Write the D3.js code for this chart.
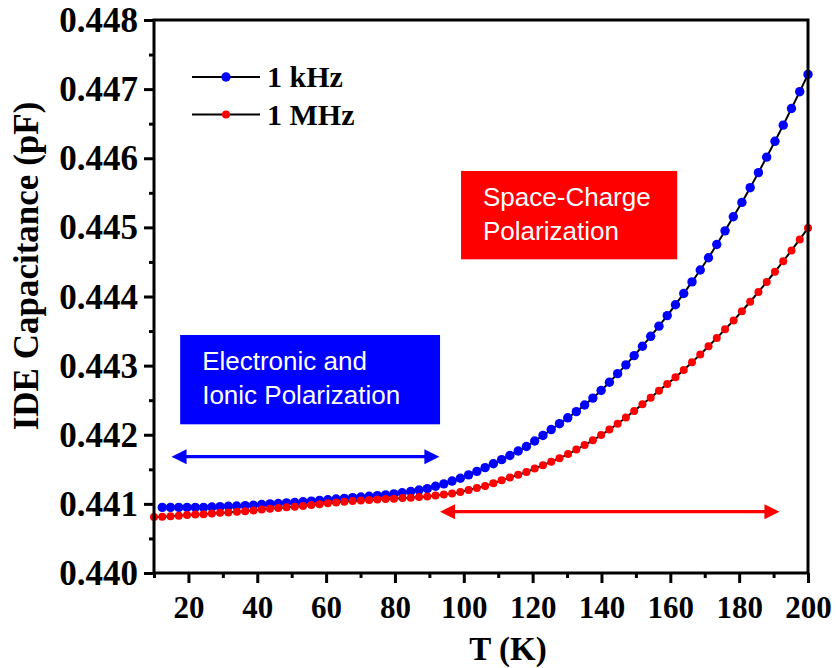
<!DOCTYPE html>
<html>
<head>
<meta charset="utf-8">
<script src="https://cdn.jsdelivr.net/npm/d3@7"></script>
<style>
  html, body { margin: 0; padding: 0; background: #fff; }
  svg { display: block; }
  .serif { font-family: "Times New Roman", "Liberation Serif", serif; font-weight: bold; fill: #000; }
  .sans { font-family: Arial, "Liberation Sans", sans-serif; fill: #fff; }
</style>
</head>
<body>
<svg id="chart" width="836" height="668"></svg>
<script>
  // ---- data ----
  const tempKHz = [
    12.4, 14.8, 17.2, 19.6, 22.0, 24.4, 26.8, 29.2, 31.6, 34.0,
    36.5, 38.9, 41.3, 43.7, 46.1, 48.5, 50.9, 53.3, 55.7, 58.1,
    60.5, 62.9, 65.3, 67.7, 70.1, 72.5, 74.9, 77.3, 79.7, 82.1,
    84.6, 87.0, 89.4, 91.8, 94.2, 96.6, 99.0, 101.4, 103.8, 106.2,
    108.6, 111.0, 113.4, 115.8, 118.2, 120.6, 123.0, 125.4, 127.8, 130.2,
    132.7, 135.1, 137.5, 139.9, 142.3, 144.7, 147.1, 149.5, 151.9, 154.3,
    156.7, 159.1, 161.5, 163.9, 166.3, 168.7, 171.1, 173.5, 175.9, 178.3,
    180.8, 183.2, 185.6, 188.0, 190.4, 192.8, 195.2, 197.6, 200.0
  ];
  const capKHz = [
    0.44095, 0.44095, 0.44095, 0.44095, 0.44095, 0.44095, 0.440955, 0.44096, 0.440965, 0.44097,
    0.440975, 0.44098, 0.44099, 0.44100, 0.441005, 0.441015, 0.44102, 0.44103, 0.44104, 0.44105,
    0.44106, 0.44107, 0.44108, 0.44109, 0.44110, 0.44111, 0.44112, 0.44113, 0.441145, 0.44116,
    0.44118, 0.44120, 0.44122, 0.441255, 0.44129, 0.44133, 0.44137, 0.44142, 0.44147, 0.441525,
    0.44158, 0.44164, 0.44170, 0.441765, 0.44183, 0.44191, 0.44199, 0.442075, 0.44216, 0.442245,
    0.442335, 0.44243, 0.44253, 0.44264, 0.44276, 0.442884, 0.443011, 0.443144, 0.443281, 0.443424,
    0.443571, 0.443724, 0.443881, 0.444044, 0.444211, 0.444384, 0.444561, 0.444753, 0.444950, 0.445153,
    0.445361, 0.445574, 0.445792, 0.446016, 0.446245, 0.446479, 0.446719, 0.446963, 0.447213
  ];
  const tempMHz = [
    10.0, 12.4, 14.8, 17.2, 19.6, 22.0, 24.4, 26.8, 29.2, 31.6,
    34.1, 36.5, 38.9, 41.3, 43.7, 46.1, 48.5, 50.9, 53.3, 55.7,
    58.1, 60.5, 62.9, 65.3, 67.7, 70.1, 72.5, 74.9, 77.3, 79.7,
    82.2, 84.6, 87.0, 89.4, 91.8, 94.2, 96.6, 99.0, 101.4, 103.8,
    106.2, 108.6, 111.0, 113.4, 115.8, 118.2, 120.6, 123.0, 125.4, 127.8,
    130.3, 132.7, 135.1, 137.5, 139.9, 142.3, 144.7, 147.1, 149.5, 151.9,
    154.3, 156.7, 159.1, 161.5, 163.9, 166.3, 168.7, 171.1, 173.5, 175.9,
    178.4, 180.8, 183.2, 185.6, 188.0, 190.4, 192.8, 195.2, 197.6, 200.0
  ];
  const capMHz = [
    0.44081, 0.440815, 0.44082, 0.44083, 0.44084, 0.440845, 0.44085, 0.44086, 0.44087, 0.440875,
    0.440885, 0.440895, 0.440905, 0.44092, 0.44093, 0.44094, 0.44095, 0.44096, 0.44097, 0.440985,
    0.440995, 0.44101, 0.44102, 0.44103, 0.44104, 0.44105, 0.441055, 0.441065, 0.44107, 0.441075,
    0.441085, 0.44109, 0.44110, 0.441105, 0.44112, 0.441135, 0.44115, 0.44117, 0.44120, 0.44123,
    0.44126, 0.44130, 0.44134, 0.44138, 0.44142, 0.44146, 0.44151, 0.44156, 0.44161, 0.44166,
    0.44172, 0.441785, 0.44185, 0.44192, 0.441995, 0.442075, 0.44216, 0.44225, 0.442345, 0.44244,
    0.442535, 0.442635, 0.442735, 0.442832, 0.442938, 0.443048, 0.443162, 0.443279, 0.4434, 0.443525,
    0.443654, 0.443787, 0.443924, 0.444065, 0.44421, 0.444358, 0.44451, 0.444666, 0.444826, 0.44499
  ];

  const xMajor = [20, 40, 60, 80, 100, 120, 140, 160, 180, 200];
  const xMinor = [10, 30, 50, 70, 90, 110, 130, 150, 170, 190];
  const yMajor = [0.440, 0.441, 0.442, 0.443, 0.444, 0.445, 0.446, 0.447, 0.448];
  const yMinor = [0.4405, 0.4415, 0.4425, 0.4435, 0.4445, 0.4455, 0.4465, 0.4475];

  const seriesNames = ["1 kHz", "1 MHz"];
  const seriesColors = ["#0000ff", "#ff0000"];

  // annotation boxes and arrows, in data units
  const boxes = [
    { t0: 17.6, t1: 93.1, c0: 0.443443, c1: 0.442151, color: "#0000ff", lines: ["Electronic and", "Ionic Polarization"] },
    { t0: 99.2, t1: 162.0, c0: 0.445816, c1: 0.444538, color: "#ff0000", lines: ["Space-Charge", "Polarization"] }
  ];
  const arrows = [
    { t0: 15.1, t1: 92.9, c: 0.441683, color: "#0000ff" },
    { t0: 93.1, t1: 191.7, c: 0.440887, color: "#ff0000" }
  ];

  // ---- layout ----
  const W = 836, H = 668;
  const M = { left: 154, right: 28, top: 20, bottom: 95 };

  const svg = d3.select("#chart");
  svg.append("rect").attr("width", W).attr("height", H).attr("fill", "#fff");

  const x = d3.scaleLinear().domain([10, 200]).range([M.left, W - M.right]);
  const y = d3.scaleLinear().domain([0.440, 0.448]).range([H - M.bottom, M.top]);

  // annotation boxes
  boxes.forEach((b) => {
    const bx = x(b.t0), by = y(b.c0);
    svg.append("rect")
      .attr("x", bx).attr("y", by)
      .attr("width", x(b.t1) - bx).attr("height", y(b.c1) - by)
      .attr("fill", b.color);
    b.lines.forEach((ln, i) => {
      svg.append("text")
        .attr("class", "sans")
        .attr("x", bx + 22)
        .attr("y", by + 35 + i * 34)
        .attr("font-size", 26)
        .text(ln);
    });
  });

  // double-headed arrows
  arrows.forEach((a) => {
    const x0 = x(a.t0), x1 = x(a.t1), yy = y(a.c);
    const hl = 15, hw = 7.5;
    svg.append("line")
      .attr("x1", x0 + hl - 2).attr("x2", x1 - hl + 2)
      .attr("y1", yy).attr("y2", yy)
      .attr("stroke", a.color).attr("stroke-width", 3.2);
    svg.append("path")
      .attr("d", `M${x0},${yy} L${x0 + hl},${yy - hw} L${x0 + hl},${yy + hw} Z`)
      .attr("fill", a.color);
    svg.append("path")
      .attr("d", `M${x1},${yy} L${x1 - hl},${yy - hw} L${x1 - hl},${yy + hw} Z`)
      .attr("fill", a.color);
  });

  // series
  const series = [
    { t: tempKHz, c: capKHz, r: 4.7 },
    { t: tempMHz, c: capMHz, r: 4.0 }
  ];
  const line = d3.line().x((d) => x(d[0])).y((d) => y(d[1]));

  series.forEach((s, i) => {
    const pts = s.t.map((t, j) => [t, s.c[j]]);
    svg.append("path")
      .datum(pts)
      .attr("d", line)
      .attr("fill", "none")
      .attr("stroke", "#000")
      .attr("stroke-width", 2);
    svg.append("g")
      .selectAll("circle")
      .data(pts)
      .join("circle")
      .attr("cx", (d) => x(d[0]))
      .attr("cy", (d) => y(d[1]))
      .attr("r", s.r)
      .attr("fill", seriesColors[i]);
  });

  // axes: major + minor ticks on bottom / left
  function styleAxis(g) {
    g.select(".domain").remove();
    g.selectAll(".tick line").attr("stroke", "#000").attr("stroke-width", 3);
  }

  svg.append("g")
    .attr("transform", `translate(0,${H - M.bottom})`)
    .call(d3.axisBottom(x).tickValues(xMinor).tickSize(5).tickFormat(""))
    .call(styleAxis);

  svg.append("g")
    .attr("transform", `translate(0,${H - M.bottom})`)
    .call(d3.axisBottom(x).tickValues(xMajor).tickSize(10).tickPadding(13).tickFormat(d3.format("d")))
    .call(styleAxis)
    .call((g) => g.selectAll("text").attr("class", "serif").attr("font-size", 31));

  svg.append("g")
    .attr("transform", `translate(${M.left},0)`)
    .call(d3.axisLeft(y).tickValues(yMinor).tickSize(5).tickFormat(""))
    .call(styleAxis);

  svg.append("g")
    .attr("transform", `translate(${M.left},0)`)
    .call(d3.axisLeft(y).tickValues(yMajor).tickSize(10).tickPadding(6).tickFormat(d3.format(".3f")))
    .call(styleAxis)
    .call((g) => g.selectAll("text").attr("class", "serif").attr("font-size", 35).attr("dy", "0.33em"));

  // frame
  svg.append("rect")
    .attr("x", M.left).attr("y", M.top)
    .attr("width", W - M.left - M.right).attr("height", H - M.top - M.bottom)
    .attr("fill", "none").attr("stroke", "#000").attr("stroke-width", 3);

  // axis titles
  svg.append("text")
    .attr("class", "serif")
    .attr("x", 508).attr("y", 660)
    .attr("text-anchor", "middle")
    .attr("font-size", 33)
    .text("T (K)");

  svg.append("text")
    .attr("class", "serif")
    .attr("transform", "translate(38,266) rotate(-90)")
    .attr("text-anchor", "middle")
    .attr("font-size", 35)
    .text("IDE Capacitance (pF)");

  // legend
  const legend = svg.append("g").attr("transform", "translate(192,77)");
  seriesNames.forEach((name, i) => {
    const row = legend.append("g").attr("transform", `translate(0,${i * 37.5})`);
    row.append("line").attr("x1", 0).attr("x2", 68).attr("stroke", "#000").attr("stroke-width", 2);
    row.append("circle").attr("cx", 34).attr("r", series[i].r).attr("fill", seriesColors[i]);
    row.append("text")
      .attr("class", "serif")
      .attr("x", 75).attr("y", 10)
      .attr("font-size", 30)
      .text(name);
  });
</script>
</body>
</html>
